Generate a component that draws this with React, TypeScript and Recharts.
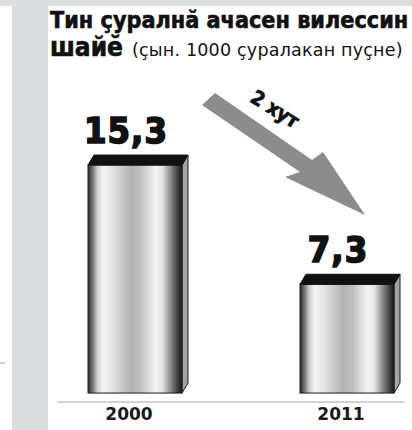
import React from "react";
import { BarChart, Bar, XAxis, YAxis, LabelList } from "recharts";

const years = ["2000", "2011"];
const deathRate = [15.3, 7.3];
const valueLabels = ["15,3", "7,3"];
const titleLine1 = "Тин ҫуралнӑ ачасен вилессин";
const titleLine2Bold = "шайӗ";
const titleLine2Note = "(ҫын. 1000 ҫуралакан пуҫне)";
const trendLabel = "2 хут";

const data = years.map((year, i) => ({ year, value: deathRate[i], label: valueLabels[i] }));

const condensed = "'DejaVu Sans Condensed', 'DejaVu Sans', sans-serif";

// 3d column: black lid, metal front, thin side face
const Column3D = (props: any) => {
  const { x, y, width, height } = props;
  const d = 6;
  const t = 10;
  return (
    <g>
      <polygon
        points={`${x + width},${y} ${x + width + d},${y - t} ${x + width + d},${y + height - t} ${x + width},${y + height}`}
        fill="#a3a3a3"
        stroke="#1a1a1a"
        strokeWidth={1}
      />
      <rect x={x} y={y} width={width} height={height} fill="url(#metal)" stroke="#1a1a1a" strokeWidth={1} />
      <polygon
        points={`${x},${y} ${x + d},${y - t} ${x + width + d},${y - t} ${x + width},${y}`}
        fill="#111"
        stroke="#111"
        strokeWidth={1}
      />
    </g>
  );
};

const ValueLabel = (props: any) => {
  const { x, y, width, value } = props;
  return (
    <text
      x={x + width / 2 - 9}
      y={y - 22}
      textAnchor="middle"
      fontFamily={condensed}
      fontWeight="bold"
      fontSize={36}
      letterSpacing={1}
      fill="#111"
      stroke="#111"
      strokeWidth={1.6}
    >
      {value}
    </text>
  );
};

const YearTick = (props: any) => {
  const { x, y, payload } = props;
  return (
    <text x={x - 6} y={y + 18} textAnchor="middle" fontFamily="'DejaVu Sans', sans-serif" fontWeight="bold" fontSize={17} fill="#1a1a1a">
      {payload.value}
    </text>
  );
};

export default function App() {
  return (
    <div style={{ position: "relative", width: 412, height: 430, background: "#fff", overflow: "hidden" }}>
      <style>{"body{margin:0}"}</style>
      <svg width={412} height={430} style={{ position: "absolute", left: 0, top: 0 }}>
        <rect x={0} y={0} width={412} height={6} fill="#dcdddf" />
        <rect x={12} y={0} width={36} height={430} fill="#dcdddf" />
        <line x1={0} y1={363} x2={5} y2={363} stroke="#9a9a9a" strokeWidth={1} />
        <text x={50} y={28} fontFamily={condensed} fontWeight="bold" fontSize={23.2} fill="#111" stroke="#111" strokeWidth={0.6}>
          {titleLine1}
        </text>
        <text x={50} y={56} fill="#111">
          <tspan fontFamily={condensed} fontWeight="bold" fontSize={26} stroke="#111" strokeWidth={0.6}>{titleLine2Bold}</tspan>
          <tspan dx={9} fontFamily="'DejaVu Sans', sans-serif" fontSize={17.5} letterSpacing={0.2}>{titleLine2Note}</tspan>
        </text>
        <polygon points="215,93 312,160 323,152 365,215 285,177 300,172 202,105" fill="#8c8c8c" />
        <text
          x={275}
          y={116}
          transform="rotate(32 275 109)"
          textAnchor="middle"
          fontFamily={condensed}
          fontWeight="bold"
          fontSize={20}
          fill="#111"
          stroke="#111"
          strokeWidth={0.8}
        >
          {trendLabel}
        </text>
      </svg>
      <div style={{ position: "absolute", left: 0, top: 0 }}>
        <BarChart width={412} height={430} data={data} margin={{ top: 95, right: 7, bottom: 0, left: 57 }}>
          <defs>
            <linearGradient id="metal" x1="0" y1="0" x2="1" y2="0">
              <stop offset="0" stopColor="#2a2a2a" />
              <stop offset="0.04" stopColor="#666" />
              <stop offset="0.1" stopColor="#cfcfcf" />
              <stop offset="0.16" stopColor="#f5f5f5" />
              <stop offset="0.26" stopColor="#e2e2e2" />
              <stop offset="0.46" stopColor="#b2b2b2" />
              <stop offset="0.56" stopColor="#c0c0c0" />
              <stop offset="0.72" stopColor="#f4f4f4" />
              <stop offset="0.79" stopColor="#e4e4e4" />
              <stop offset="0.88" stopColor="#8a8a8a" />
              <stop offset="0.95" stopColor="#444" />
              <stop offset="1" stopColor="#1a1a1a" />
            </linearGradient>
          </defs>
          <XAxis
            dataKey="year"
            height={28}
            padding={{ left: -28, right: -48 }}
            axisLine={{ stroke: "#a8a8a8", strokeWidth: 1 }}
            tickLine={false}
            tickSize={0}
            tickMargin={0}
            tick={<YearTick />}
            interval={0}
          />
          <YAxis hide domain={[-0.6, 20]} />
          <Bar dataKey="value" barSize={94} shape={<Column3D />} isAnimationActive={false}>
            <LabelList dataKey="label" content={<ValueLabel />} />
          </Bar>
        </BarChart>
      </div>
    </div>
  );
}
